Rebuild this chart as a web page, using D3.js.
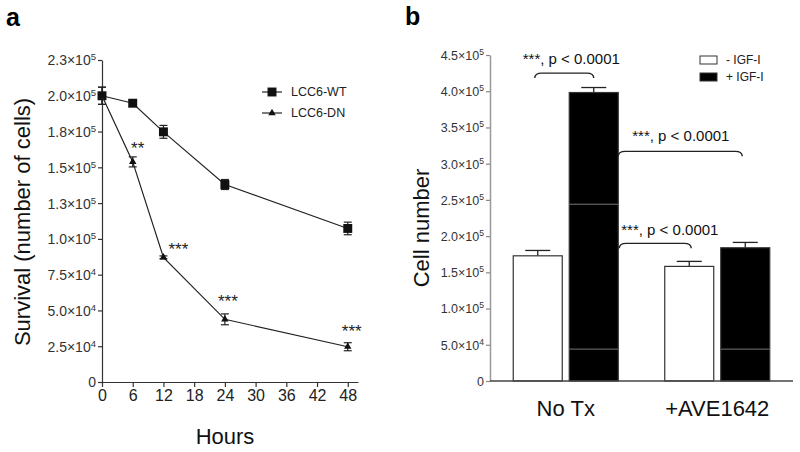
<!DOCTYPE html>
<html>
<head>
<meta charset="utf-8">
<script src="https://cdn.jsdelivr.net/npm/d3@7"></script>
<style>
  html, body { margin: 0; padding: 0; background: #fff; }
  svg { display: block; font-family: "Liberation Sans", Arial, Helvetica, sans-serif; }
</style>
</head>
<body>
<svg id="chart" width="800" height="452"></svg>
<script>
// ---------- Panel a data ----------
const hours = [0, 6, 12, 24, 48];
const wtValues = [200000, 194800, 174800, 138000, 107300];
const wtErrors = [6000, 2000, 4500, 3500, 4400];
const dnValues = [200000, 153800, 87100, 43800, 24650];
const dnErrors = [6000, 3500, 1000, 3800, 2800];
const dnStars = ["", "**", "***", "***", "***"];
const seriesNamesA = ["LCC6-WT", "LCC6-DN"];
const xTicksA = [0, 6, 12, 18, 24, 30, 36, 42, 48];
const yTicksA = [0, 25000, 50000, 75000, 100000, 125000, 150000, 175000, 200000, 225000];
const yTickLabelsA = ["0", "2.5×10^4", "5.0×10^4", "7.5×10^4", "1.0×10^5", "1.3×10^5", "1.5×10^5", "1.8×10^5", "2.0×10^5", "2.3×10^5"];

// ---------- Panel b data ----------
const groupsB = ["No Tx", "+AVE1642"];
const treatmentsB = ["- IGF-I", "+ IGF-I"];
const minusIGF = [172800, 158200];
const plusIGF = [398200, 183900];
const minusIGFErr = [7400, 6900];
const plusIGFErr = [6900, 7400];
const yTicksB = [0, 50000, 100000, 150000, 200000, 250000, 300000, 350000, 400000, 450000];
const yTickLabelsB = ["0", "5.0×10^4", "1.0×10^5", "1.5×10^5", "2.0×10^5", "2.5×10^5", "3.0×10^5", "3.5×10^5", "4.0×10^5", "4.5×10^5"];
const annotationText = "***, p < 0.0001";
const bracketLevels = [425000, 317000, 190000];
const seamValues = [44000, 244000]; // faint scan seams visible across the black bars

const svg = d3.select("#chart");

function sciLabel(sel, str, supSize) {
  sel.each(function () {
    const t = d3.select(this);
    const parts = str.split("^");
    t.text(null);
    t.append("tspan").text(parts[0]);
    if (parts[1]) t.append("tspan").attr("dy", -5).attr("font-size", supSize).text(parts[1]);
  });
}

// ================= Panel a =================
const xA = d3.scaleLinear().domain([0, 50]).range([102, 358]);
const yA = d3.scaleLinear().domain([0, 225000]).range([382, 60]);
const gA = svg.append("g");

// axes
const xAxisA = gA.append("g").attr("transform", `translate(0,${yA(0)})`)
  .call(d3.axisBottom(xA).tickValues(xTicksA).tickSize(5).tickSizeOuter(0).tickPadding(3));
xAxisA.selectAll("text").attr("font-size", 16).attr("fill", "#222").attr("font-family", "Liberation Sans, Arial, sans-serif");
const yAxisA = gA.append("g").attr("transform", `translate(${xA(0)},0)`)
  .call(d3.axisLeft(yA).tickValues(yTicksA).tickSize(4).tickSizeOuter(0).tickPadding(2).tickFormat(""));
yAxisA.selectAll(".tick text").each(function (d, i) {
  d3.select(this).attr("font-size", 14).attr("fill", "#333").attr("dy", "0.35em")
    .attr("font-family", "Liberation Sans, Arial, sans-serif");
  sciLabel(d3.select(this), yTickLabelsA[i], 9.5);
});
[xAxisA, yAxisA].forEach(a => {
  a.select(".domain").attr("stroke", "#333").attr("stroke-width", 1.2);
  a.selectAll(".tick line").attr("stroke", "#333").attr("stroke-width", 1.2);
});

const line = d3.line().x(d => xA(d[0])).y(d => yA(d[1]));
const wt = hours.map((h, i) => [h, wtValues[i], wtErrors[i]]);
const dn = hours.map((h, i) => [h, dnValues[i], dnErrors[i]]);

function drawSeries(data, shape) {
  gA.append("path").datum(data).attr("d", line).attr("fill", "none").attr("stroke", "#222").attr("stroke-width", 1.2);
  const eb = gA.append("g");
  data.forEach(d => {
    const x = xA(d[0]), y1 = yA(d[1] + d[2]), y2 = yA(d[1] - d[2]);
    eb.append("line").attr("x1", x).attr("x2", x).attr("y1", y1).attr("y2", y2).attr("stroke", "#222").attr("stroke-width", 1.2);
    eb.append("line").attr("x1", x - 4).attr("x2", x + 4).attr("y1", y1).attr("y2", y1).attr("stroke", "#222").attr("stroke-width", 1.2);
    eb.append("line").attr("x1", x - 4).attr("x2", x + 4).attr("y1", y2).attr("y2", y2).attr("stroke", "#222").attr("stroke-width", 1.2);
  });
  const sym = d3.symbol().type(shape === "square" ? d3.symbolSquare : d3.symbolTriangle).size(shape === "square" ? 80 : 24);
  gA.append("g").selectAll("path").data(data).join("path")
    .attr("d", sym).attr("transform", d => `translate(${xA(d[0])},${yA(d[1])})`).attr("fill", "#111");
}
drawSeries(wt, "square");
drawSeries(dn, "triangle");

// significance stars
const starOffsets = [[0, 0], [5, -8], [15, -2], [3, -12], [4, -10]];
gA.append("g").selectAll("text").data(dn).join("text")
  .attr("x", (d, i) => xA(d[0]) + starOffsets[i][0])
  .attr("y", (d, i) => yA(d[1]) + starOffsets[i][1])
  .attr("text-anchor", "middle").attr("font-size", 17).attr("fill", "#222")
  .text((d, i) => dnStars[i]);

// legend a
const legA = gA.append("g");
seriesNamesA.forEach((name, i) => {
  const y = 92 + i * 21;
  legA.append("line").attr("x1", 262).attr("x2", 282).attr("y1", y).attr("y2", y).attr("stroke", "#222").attr("stroke-width", 1.2);
  legA.append("path").attr("d", d3.symbol().type(i === 0 ? d3.symbolSquare : d3.symbolTriangle).size(i === 0 ? 80 : 24)())
    .attr("transform", `translate(272,${y})`).attr("fill", "#111");
  legA.append("text").attr("x", 291).attr("y", y).attr("dy", "0.35em").attr("font-size", 12.5).attr("fill", "#222").text(name);
});

// titles a
gA.append("text").attr("transform", "translate(30,222) rotate(-90)").attr("text-anchor", "middle")
  .attr("font-size", 22).attr("fill", "#111").text("Survival (number of cells)");
gA.append("text").attr("x", 225).attr("y", 444).attr("text-anchor", "middle").attr("font-size", 22).attr("fill", "#111").text("Hours");
gA.append("text").attr("x", 6).attr("y", 26).attr("font-size", 25).attr("font-weight", "bold").attr("fill", "#000").text("a");

// ================= Panel b =================
const yB = d3.scaleLinear().domain([0, 450000]).range([381, 55]);
const x0 = d3.scaleBand().domain(groupsB).range([490, 793]).paddingInner(0).paddingOuter(0);
const x1 = d3.scaleBand().domain(treatmentsB).range([0, x0.bandwidth()]).paddingInner(0.125).paddingOuter(0.415);
const gB = svg.append("g");

const yAxisB = gB.append("g").attr("transform", `translate(490,0)`)
  .call(d3.axisLeft(yB).tickValues(yTicksB).tickSize(4).tickSizeOuter(0).tickPadding(2).tickFormat(""));
yAxisB.selectAll(".tick text").each(function (d, i) {
  d3.select(this).attr("font-size", 12.5).attr("fill", "#333").attr("dy", "0.35em")
    .attr("font-family", "Liberation Sans, Arial, sans-serif");
  sciLabel(d3.select(this), yTickLabelsB[i], 8.5);
});
yAxisB.select(".domain").attr("stroke", "#999").attr("stroke-width", 1.5);
yAxisB.selectAll(".tick line").attr("stroke", "#888").attr("stroke-width", 1.2);

const barData = [];
groupsB.forEach((g, gi) => {
  barData.push({ group: g, tr: treatmentsB[0], v: minusIGF[gi], e: minusIGFErr[gi] });
  barData.push({ group: g, tr: treatmentsB[1], v: plusIGF[gi], e: plusIGFErr[gi] });
});
const bx = d => x0(d.group) + x1(d.tr);
const bw = x1.bandwidth();

// error bars (upper only)
const ebB = gB.append("g");
barData.forEach(d => {
  const cx = bx(d) + bw / 2, yt = yB(d.v + d.e);
  ebB.append("line").attr("x1", cx).attr("x2", cx).attr("y1", yB(d.v)).attr("y2", yt).attr("stroke", "#222").attr("stroke-width", 1.3);
  ebB.append("line").attr("x1", cx - 12.5).attr("x2", cx + 12.5).attr("y1", yt).attr("y2", yt).attr("stroke", "#222").attr("stroke-width", 1.3);
});

gB.append("g").selectAll("rect").data(barData).join("rect")
  .attr("x", d => bx(d)).attr("width", bw)
  .attr("y", d => yB(d.v)).attr("height", d => yB(0) - yB(d.v))
  .attr("fill", d => d.tr === treatmentsB[0] ? "#fff" : "#000")
  .attr("stroke", "#333").attr("stroke-width", 1.2);

// scan seams on black bars
barData.filter(d => d.tr === treatmentsB[1]).forEach(d => {
  seamValues.filter(s => s < d.v).forEach(s => {
    gB.append("line").attr("x1", bx(d)).attr("x2", bx(d) + bw).attr("y1", yB(s)).attr("y2", yB(s))
      .attr("stroke", "#777").attr("stroke-width", 1);
  });
});

// x axis b
gB.append("line").attr("x1", 490).attr("x2", 793).attr("y1", yB(0)).attr("y2", yB(0)).attr("stroke", "#444").attr("stroke-width", 1.3);
gB.append("g").selectAll("text").data(groupsB).join("text")
  .attr("x", d => x0(d) + x0.bandwidth() / 2).attr("y", 416).attr("text-anchor", "middle")
  .attr("font-size", 22).attr("fill", "#111").text(d => d);

// brackets
function bracket(xa, xb, lvl) {
  const y = yB(lvl), r = 5;
  const p = d3.path();
  p.moveTo(xa, y + r);
  p.quadraticCurveTo(xa, y, xa + r + 2, y);
  p.lineTo(xb - r - 2, y);
  p.quadraticCurveTo(xb, y, xb, y + r);
  gB.append("path").attr("d", p.toString()).attr("fill", "none").attr("stroke", "#222").attr("stroke-width", 1.4);
}
const cNoWhite = bx(barData[0]) + bw / 2, cNoBlack = bx(barData[1]) + bw / 2;
const noBlackRight = bx(barData[1]) + bw;
const cAveWhite = bx(barData[2]) + bw / 2, cAveBlack = bx(barData[3]) + bw / 2;
const brackets = [
  { a: cNoWhite - 3, b: cNoBlack, lvl: bracketLevels[0], tx: cNoWhite - 15, ty: -9 },
  { a: noBlackRight, b: cAveBlack - 3, lvl: bracketLevels[1], tx: noBlackRight + 14, ty: -10 },
  { a: noBlackRight + 1, b: cAveWhite + 2, lvl: bracketLevels[2], tx: noBlackRight + 3, ty: -8 }
];
brackets.forEach(b => {
  bracket(b.a, b.b, b.lvl);
  gB.append("text").attr("x", b.tx).attr("y", yB(b.lvl) + b.ty).attr("font-size", 15).attr("fill", "#111").text(annotationText);
});

// legend b
const legB = gB.append("g");
treatmentsB.forEach((t, i) => {
  const y = 60 + i * 17;
  legB.append("rect").attr("x", 700).attr("y", y - 4).attr("width", 17).attr("height", 8)
    .attr("fill", i === 0 ? "#fff" : "#000").attr("stroke", "#333").attr("stroke-width", 1);
  legB.append("text").attr("x", 726).attr("y", y).attr("dy", "0.35em").attr("font-size", 12).attr("fill", "#222").text(t);
});

// titles b
gB.append("text").attr("transform", "translate(429,228) rotate(-90)").attr("text-anchor", "middle")
  .attr("font-size", 22).attr("fill", "#111").text("Cell number");
gB.append("text").attr("x", 405).attr("y", 25).attr("font-size", 25).attr("font-weight", "bold").attr("fill", "#000").text("b");
</script>
</body>
</html>
